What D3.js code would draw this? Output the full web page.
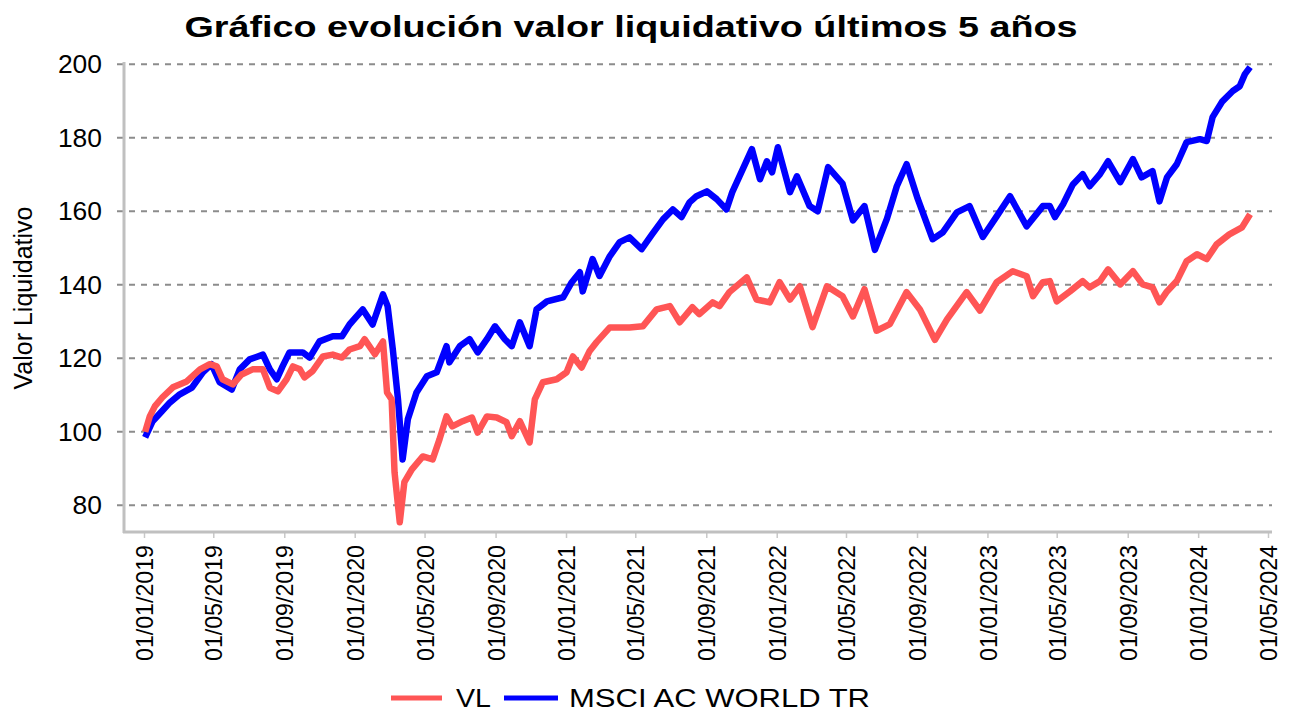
<!DOCTYPE html>
<html>
<head>
<meta charset="utf-8">
<script src="https://cdn.jsdelivr.net/npm/d3@7"></script>
<style>
  body { margin: 0; background: #fff; }
  svg { display: block; font-family: "Liberation Sans", Arial, sans-serif; }
</style>
</head>
<body>
<svg id="chart" width="1289" height="713"></svg>
<script>
// data
const vlDates = ['2019-01-03','2019-01-11','2019-01-20','2019-02-02','2019-02-20','2019-03-16','2019-04-08','2019-04-25','2019-05-07','2019-05-17','2019-06-04','2019-06-19','2019-07-08','2019-07-26','2019-08-07','2019-08-21','2019-09-05','2019-09-16','2019-09-28','2019-10-06','2019-10-20','2019-11-07','2019-11-24','2019-12-10','2019-12-23','2020-01-10','2020-01-18','2020-02-05','2020-02-19','2020-02-26','2020-03-05','2020-03-10','2020-03-19','2020-03-27','2020-04-09','2020-04-28','2020-05-15','2020-05-27','2020-06-08','2020-06-18','2020-07-06','2020-07-22','2020-08-01','2020-08-17','2020-09-03','2020-09-20','2020-09-29','2020-10-13','2020-10-30','2020-11-08','2020-11-22','2020-12-16','2021-01-02','2021-01-13','2021-01-28','2021-02-11','2021-02-23','2021-03-18','2021-04-21','2021-05-14','2021-06-07','2021-06-30','2021-07-17','2021-08-08','2021-08-20','2021-09-12','2021-09-24','2021-10-11','2021-11-10','2021-11-27','2021-12-20','2022-01-06','2022-01-24','2022-02-10','2022-03-04','2022-03-29','2022-04-25','2022-05-13','2022-06-02','2022-06-23','2022-07-16','2022-08-14','2022-09-06','2022-10-02','2022-10-23','2022-11-26','2022-12-19','2023-01-17','2023-02-14','2023-03-10','2023-03-21','2023-04-07','2023-04-19','2023-05-01','2023-05-24','2023-06-15','2023-06-27','2023-07-15','2023-07-29','2023-08-19','2023-09-10','2023-09-27','2023-10-14','2023-10-26','2023-11-08','2023-11-25','2023-12-12','2023-12-30','2024-01-16','2024-02-02','2024-02-24','2024-03-17','2024-03-31'];
const vlValues = [100.0,104.2,107.0,109.4,112.1,113.7,117.0,118.4,117.8,114.3,112.9,115.6,117.0,117.0,112.0,111.0,114.3,117.8,117.0,114.8,116.5,120.5,121.0,120.2,122.4,123.3,125.2,121.1,124.6,110.7,108.8,89.0,75.4,86.3,89.8,93.3,92.5,98.0,104.2,101.5,102.9,103.9,99.8,104.2,103.9,102.6,98.8,102.9,97.1,108.8,113.5,114.3,116.2,120.5,117.5,122.0,124.4,128.4,128.4,128.7,133.3,134.2,129.8,133.9,132.0,135.2,134.2,138.0,142.0,136.0,135.2,140.7,136.0,139.6,128.5,139.6,136.9,131.4,138.8,127.5,129.3,138.0,133.3,125.0,130.6,138.0,133.0,140.7,143.7,142.3,136.9,140.7,141.0,135.5,138.2,141.0,139.3,141.0,144.2,140.1,143.7,140.1,139.3,135.2,138.2,141.0,146.4,148.3,147.0,151.0,153.7,155.6,159.2];

const msciDates = ['2019-01-03','2019-01-16','2019-02-01','2019-02-15','2019-03-04','2019-03-25','2019-04-13','2019-04-28','2019-05-12','2019-06-02','2019-06-16','2019-07-03','2019-07-26','2019-08-07','2019-08-19','2019-08-29','2019-09-10','2019-10-03','2019-10-15','2019-11-01','2019-11-24','2019-12-10','2019-12-23','2020-01-15','2020-02-01','2020-02-19','2020-02-27','2020-03-07','2020-03-16','2020-03-24','2020-04-02','2020-04-17','2020-05-05','2020-05-22','2020-06-08','2020-06-13','2020-07-01','2020-07-18','2020-08-01','2020-08-17','2020-08-31','2020-09-17','2020-09-29','2020-10-13','2020-10-30','2020-11-11','2020-11-29','2020-12-27','2021-01-11','2021-01-25','2021-01-30','2021-02-16','2021-02-28','2021-03-18','2021-04-04','2021-04-21','2021-05-12','2021-05-30','2021-06-18','2021-07-05','2021-07-20','2021-08-03','2021-08-15','2021-09-02','2021-09-19','2021-10-06','2021-10-16','2021-11-03','2021-11-19','2021-12-03','2021-12-15','2021-12-24','2022-01-03','2022-01-24','2022-02-05','2022-02-27','2022-03-13','2022-03-31','2022-04-25','2022-05-13','2022-06-02','2022-06-20','2022-07-11','2022-07-28','2022-08-14','2022-09-02','2022-09-28','2022-10-16','2022-11-09','2022-12-01','2022-12-24','2023-01-17','2023-02-09','2023-03-10','2023-04-07','2023-04-19','2023-04-28','2023-05-12','2023-05-29','2023-06-15','2023-06-27','2023-07-15','2023-07-29','2023-08-19','2023-09-10','2023-09-25','2023-10-14','2023-10-26','2023-11-08','2023-11-25','2023-12-12','2024-01-04','2024-01-16','2024-01-26','2024-02-12','2024-03-01','2024-03-13','2024-03-22','2024-03-31'];
const msciValues = [98.5,102.9,105.6,108.0,110.2,112.0,116.2,118.4,113.5,111.5,117.0,119.7,121.0,117.0,114.3,117.8,121.6,121.6,120.2,124.6,126.0,126.0,129.2,133.3,129.2,137.4,134.2,122.4,108.8,92.5,103.4,110.7,115.1,116.2,123.3,118.9,123.3,125.2,121.6,125.2,128.7,125.2,123.3,129.8,123.3,133.3,135.5,136.6,140.7,143.4,138.2,147.0,142.4,147.8,151.6,152.9,149.7,153.7,157.8,160.5,158.4,162.4,164.1,165.4,163.3,160.5,165.2,171.4,176.9,168.7,173.6,170.6,177.4,165.2,169.5,161.4,160.0,172.0,167.5,157.5,161.4,149.5,158.0,166.8,172.8,163.5,152.4,154.3,159.7,161.4,153.0,158.6,164.1,155.9,161.4,161.4,158.4,161.9,167.3,170.1,166.8,170.1,173.6,167.9,174.2,169.2,170.9,162.7,169.2,172.8,178.8,179.6,179.1,185.6,189.9,192.7,194.0,197.3,199.2];

const yTicks = [80, 100, 120, 140, 160, 180, 200];
const xTickDates = ['2019-01-01','2019-05-01','2019-09-01','2020-01-01','2020-05-01','2020-09-01','2021-01-01','2021-05-01','2021-09-01','2022-01-01','2022-05-01','2022-09-01','2023-01-01','2023-05-01','2023-09-01','2024-01-01','2024-05-01'];
const seriesNames = ['VL', 'MSCI AC WORLD TR'];
const seriesColors = ['#ff5555', '#0000ff'];

const parse = d3.timeParse('%Y-%m-%d');
const fmt = d3.timeFormat('%d/%m/%Y');

// layout
const plotLeft = 124, plotRight = 1272, plotTop = 62, plotBottom = 532;

const svg = d3.select('#chart');

const x = d3.scaleTime()
  .domain([parse('2019-01-01'), parse('2024-05-01')])
  .range([144, 1268]);
const y = d3.scaleLinear()
  .domain([72.75, 200.6])
  .range([plotBottom, plotTop]);

// title
svg.append('text')
  .attr('x', 631).attr('y', 37)
  .attr('text-anchor', 'middle')
  .attr('font-size', 30).attr('font-weight', 'bold')
  .attr('textLength', 893).attr('lengthAdjust', 'spacingAndGlyphs')
  .text('Gráfico evolución valor liquidativo últimos 5 años');

// grid
svg.append('g').selectAll('line')
  .data(yTicks).enter().append('line')
  .attr('x1', 117).attr('x2', plotRight)
  .attr('y1', d => y(d)).attr('y2', d => y(d))
  .attr('stroke', '#8c8c8c').attr('stroke-width', 2)
  .attr('stroke-dasharray', '6,6');

// y labels
svg.append('g').selectAll('text')
  .data(yTicks).enter().append('text')
  .attr('x', 102).attr('y', d => y(d) + 9)
  .attr('text-anchor', 'end')
  .attr('font-size', 25)
  .attr('textLength', d => String(d).length * 14.7)
  .attr('lengthAdjust', 'spacingAndGlyphs')
  .text(d => d);

// y title
svg.append('text')
  .attr('transform', 'translate(32,298) rotate(-90)')
  .attr('text-anchor', 'middle')
  .attr('font-size', 25)
  .attr('textLength', 183).attr('lengthAdjust', 'spacingAndGlyphs')
  .text('Valor Liquidativo');

// x axis
const xAxis = d3.axisBottom(x)
  .tickValues(xTickDates.map(parse))
  .tickSize(6)
  .tickFormat(fmt);
const xAxisNode = svg.append('g')
  .attr('transform', `translate(0,${plotBottom})`)
  .call(xAxis);
xAxisNode.select('.domain').remove();
xAxisNode.selectAll('.tick line').attr('stroke', '#c8c8c8').attr('stroke-width', 1.5);
xAxisNode.selectAll('.tick text')
  .attr('transform', 'rotate(-90)')
  .attr('x', -13).attr('y', 0).attr('dy', '0.36em')
  .attr('text-anchor', 'end')
  .attr('font-size', 24)
  .attr('font-family', '"Liberation Sans", Arial, sans-serif')
  .attr('fill', '#000')
  .attr('textLength', 116).attr('lengthAdjust', 'spacingAndGlyphs');

// axis lines
svg.append('line')
  .attr('x1', plotLeft).attr('x2', plotLeft).attr('y1', plotTop).attr('y2', plotBottom + 1)
  .attr('stroke', '#c0c0c0').attr('stroke-width', 3);
svg.append('line')
  .attr('x1', plotLeft - 1).attr('x2', plotRight).attr('y1', plotBottom).attr('y2', plotBottom)
  .attr('stroke', '#c0c0c0').attr('stroke-width', 3);

// series
const line = d3.line()
  .x(d => x(d.date))
  .y(d => y(d.value));
const msci = msciDates.map((d, i) => ({ date: parse(d), value: msciValues[i] }));
const vl = vlDates.map((d, i) => ({ date: parse(d), value: vlValues[i] }));

svg.append('path').datum(msci)
  .attr('d', line)
  .attr('fill', 'none').attr('stroke', seriesColors[1])
  .attr('stroke-width', 6.5).attr('stroke-linejoin', 'round');
svg.append('path').datum(vl)
  .attr('d', line)
  .attr('fill', 'none').attr('stroke', seriesColors[0])
  .attr('stroke-width', 6.5).attr('stroke-linejoin', 'round');

// legend
const legend = [
  { x1: 391, x2: 442, tx: 456, tl: 35 },
  { x1: 504, x2: 558, tx: 569, tl: 301 },
];
legend.forEach((l, i) => {
  svg.append('line')
    .attr('x1', l.x1).attr('x2', l.x2).attr('y1', 698).attr('y2', 698)
    .attr('stroke', seriesColors[i]).attr('stroke-width', 5);
  svg.append('text')
    .attr('x', l.tx).attr('y', 706.5)
    .attr('font-size', 25)
    .attr('textLength', l.tl).attr('lengthAdjust', 'spacingAndGlyphs')
    .text(seriesNames[i]);
});
</script>
</body>
</html>
